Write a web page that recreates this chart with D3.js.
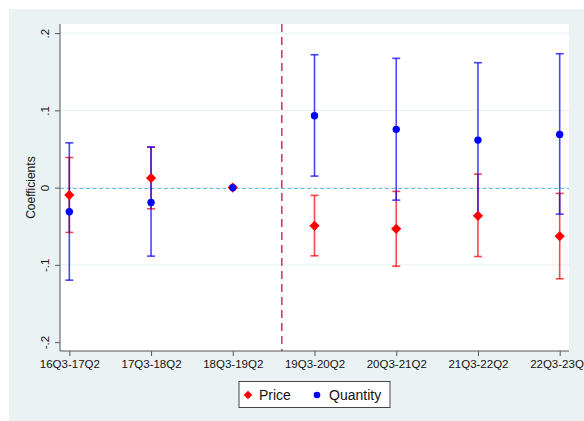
<!DOCTYPE html>
<html><head><meta charset="utf-8">
<script src="https://cdn.jsdelivr.net/npm/d3@7"></script>
<style>body{margin:0;background:#fff}svg{display:block}text{font-family:"Liberation Sans",Arial,sans-serif;fill:#111}</style>
</head><body><svg id="c" width="584" height="421"></svg>
<script>
const categories = ["16Q3-17Q2","17Q3-18Q2","18Q3-19Q2","19Q3-20Q2","20Q3-21Q2","21Q3-22Q2","22Q3-23Q2"];
const priceCoef = [-0.0097, 0.0123, 0, -0.0494, -0.0533, -0.0365, -0.0628];
const priceLo   = [-0.058, -0.0274, 0, -0.0883, -0.1017, -0.0892, -0.118];
const priceHi   = [0.039, 0.0525, 0, -0.0101, -0.0049, 0.0175, -0.0075];
const qtyCoef = [-0.0313, -0.0192, 0, 0.093, 0.0754, 0.0615, 0.0689];
const qtyLo   = [-0.1198, -0.0887, 0, 0.0149, -0.0162, -0.037, -0.0343];
const qtyHi   = [0.058, 0.0525, 0, 0.172, 0.1673, 0.1617, 0.1733];
const yTicks = [-0.2, -0.1, 0, 0.1, 0.2];
const yTickLabels = ["-.2", "-.1", "0", ".1", ".2"];
const eventPos = 2.6; // vertical reference line, in category index units
const legendLabels = ["Price", "Quantity"];

const svg = d3.select("#c");
const L = 60, R = 569, T = 24, B = 351;
svg.append("rect").attr("x", 9).attr("y", 9).attr("width", 575).attr("height", 412).attr("fill", "#eaf2f3");
svg.append("rect").attr("x", L).attr("y", T).attr("width", R - L).attr("height", B - T).attr("fill", "#fff");

const x = d3.scalePoint().domain(categories).range([L, R]).padding(0.114);
const xi = d3.scaleLinear().domain([0, categories.length - 1]).range([x(categories[0]), x(categories[categories.length - 1])]);
const y = d3.scaleLinear().domain([-0.2115, 0.2118]).range([B, T]);

// gridlines
svg.append("g").selectAll("line").data(yTicks.filter(v => v > -0.15))
  .join("line").attr("x1", L).attr("x2", R).attr("y1", d => y(d)).attr("y2", d => y(d))
  .attr("stroke", "#eaf2f3").attr("stroke-width", 1.2);

// zero dashed line
const y0 = Math.round(y(0)) + 0.5;
svg.append("line").attr("x1", L).attr("x2", R).attr("y1", y0).attr("y2", y0)
  .attr("stroke", "#6cbde6").attr("stroke-width", 1.2).attr("stroke-dasharray", "4,2.5");

// vertical event line
svg.append("line").attr("x1", xi(eventPos)).attr("x2", xi(eventPos)).attr("y1", T).attr("y2", B)
  .attr("stroke", "#d0406a").attr("stroke-width", 1.6).attr("stroke-dasharray", "8,5");

// axes
const yAxis = d3.axisLeft(y).tickValues(yTicks).tickFormat((d, i) => yTickLabels[i]).tickSize(5).tickSizeOuter(0);
const gy = svg.append("g").attr("transform", `translate(${L},0)`).call(yAxis);
gy.select(".domain").attr("stroke", "#555").attr("d", `M0,${T}V${B}`);
gy.selectAll(".tick line").attr("stroke", "#555");
gy.selectAll(".tick text").attr("font-size", 11.5).attr("text-anchor", "middle")
  .attr("x", null).attr("dy", null)
  .attr("transform", "translate(-11,0) rotate(-90)").attr("y", 0);

const xAxis = d3.axisBottom(x).tickSize(5).tickSizeOuter(0);
const gx = svg.append("g").attr("transform", `translate(0,${B})`).call(xAxis);
gx.select(".domain").attr("stroke", "#555").attr("d", `M${L},0H${R}`);
gx.selectAll(".tick line").attr("stroke", "#555");
gx.selectAll(".tick text").attr("font-size", 11.5).attr("y", 9).attr("dy", "0.71em");
svg.selectAll(".tick text").style("fill", "#111").style("font-family", '"Liberation Sans",Arial,sans-serif');

svg.append("text").attr("transform", `translate(35,${y(0)}) rotate(-90)`).attr("text-anchor", "middle")
  .attr("font-size", 12).text("Coefficients");

// CIs
function ci(lo, hi, color) {
  const g = svg.append("g").attr("stroke", color).attr("stroke-width", 1.6).attr("stroke-opacity", 0.72);
  categories.forEach((c, i) => {
    if (lo[i] === hi[i]) return;
    g.append("line").attr("x1", x(c)).attr("x2", x(c)).attr("y1", y(lo[i])).attr("y2", y(hi[i]));
    [lo[i], hi[i]].forEach(v => g.append("line").attr("x1", x(c) - 4).attr("x2", x(c) + 4).attr("y1", y(v)).attr("y2", y(v)));
  });
}
ci(priceLo, priceHi, "#ff0000");
ci(qtyLo, qtyHi, "#0000ff");

const diamond = d3.symbol().type(d3.symbolSquare).size(52);
svg.append("g").selectAll("path").data(priceCoef).join("path")
  .attr("d", diamond).attr("fill", "#ff0000")
  .attr("transform", (d, i) => `translate(${x(categories[i])},${y(d)}) rotate(45)`);
svg.append("g").selectAll("circle").data(qtyCoef).join("circle")
  .attr("cx", (d, i) => x(categories[i])).attr("cy", d => y(d)).attr("r", 3.7).attr("fill", "#0000ff");

// legend
const lg = svg.append("g");
lg.append("rect").attr("x", 239).attr("y", 381.5).attr("width", 151).attr("height", 26)
  .attr("fill", "#fff").attr("stroke", "#444").attr("stroke-width", 1);
lg.append("path").attr("d", d3.symbol().type(d3.symbolSquare).size(38)).attr("fill", "#ff0000")
  .attr("transform", "translate(248,395) rotate(45)");
lg.append("text").attr("x", 259).attr("y", 400).attr("font-size", 14).text(legendLabels[0]);
lg.append("circle").attr("cx", 317).attr("cy", 395).attr("r", 3.3).attr("fill", "#0000ff");
lg.append("text").attr("x", 329).attr("y", 400).attr("font-size", 14).text(legendLabels[1]);
</script></body></html>
